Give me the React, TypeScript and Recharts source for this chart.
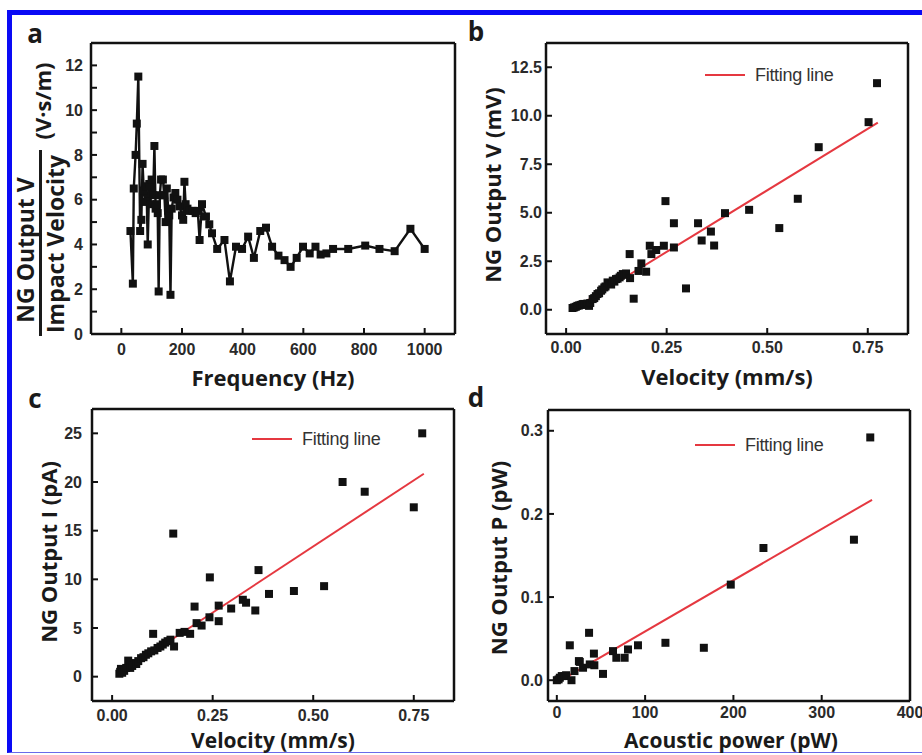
import React from "react";
import { ScatterChart, Scatter, XAxis, YAxis, ZAxis, ReferenceLine } from "recharts";

// panel a: ratio vs frequency
const freqA = [30, 38, 41, 47, 51, 56, 62, 66, 70, 74, 78, 83, 87, 92, 96, 100, 105, 109, 113, 117, 120, 123, 127, 131, 137, 142, 146, 150, 155, 158, 162, 166, 172, 178, 185, 192, 200, 204, 208, 212, 218, 225, 235, 245, 252, 258, 266, 279, 290, 299, 316, 340, 358, 378, 398, 418, 437, 458, 477, 497, 518, 538, 558, 578, 599, 621, 640, 657, 676, 698, 748, 804, 851, 901, 953, 1000];
const ratioA = [4.6, 2.25, 6.5, 8.0, 9.4, 11.5, 4.6, 5.1, 7.6, 6.4, 5.9, 6.6, 4.0, 6.7, 5.8, 6.9, 6.2, 8.4, 5.6, 5.8, 5.4, 1.9, 6.2, 6.9, 6.9, 6.2, 5.0, 6.5, 5.5, 5.3, 1.75, 5.6, 6.1, 6.3, 6.0, 5.7, 5.3, 5.1, 6.8, 5.8, 5.6, 5.5, 5.5, 5.4, 5.5, 4.2, 5.8, 5.25, 4.9, 4.5, 3.8, 4.2, 2.35, 3.9, 3.8, 4.35, 3.4, 4.6, 4.75, 3.9, 3.5, 3.3, 3.0, 3.4, 3.9, 3.6, 3.9, 3.55, 3.6, 3.8, 3.8, 3.95, 3.8, 3.7, 4.7, 3.8];

// panel b: voltage vs velocity
const velB = [0.016, 0.02, 0.024, 0.028, 0.032, 0.036, 0.041, 0.045, 0.05, 0.053, 0.057, 0.06, 0.066, 0.07, 0.074, 0.078, 0.082, 0.087, 0.09, 0.095, 0.098, 0.103, 0.107, 0.112, 0.116, 0.12, 0.124, 0.128, 0.133, 0.136, 0.141, 0.145, 0.149, 0.158, 0.159, 0.168, 0.18, 0.187, 0.199, 0.208, 0.212, 0.224, 0.243, 0.247, 0.268, 0.268, 0.298, 0.328, 0.337, 0.36, 0.368, 0.395, 0.455, 0.53, 0.576, 0.628, 0.752, 0.773];
const voltB = [0.09, 0.12, 0.15, 0.2, 0.22, 0.25, 0.29, 0.3, 0.25, 0.32, 0.2, 0.35, 0.55, 0.6, 0.7, 0.81, 0.85, 0.98, 1.05, 1.15, 1.2, 1.41, 1.35, 1.3, 1.5, 1.45, 1.58, 1.6, 1.67, 1.75, 1.84, 1.8, 1.87, 2.87, 1.63, 0.57, 2.0, 2.39, 1.96, 3.3, 2.87, 3.08, 3.3, 5.6, 3.21, 4.46, 1.1, 4.46, 3.57, 4.03, 3.31, 4.98, 5.15, 4.21, 5.72, 8.38, 9.67, 11.68];
const fitBx = [0.015, 0.775];
const fitBy = [0.0, 9.65];

// panel c: current vs velocity
const velC = [0.018, 0.02, 0.022, 0.025, 0.03, 0.035, 0.04, 0.045, 0.05, 0.055, 0.06, 0.065, 0.072, 0.078, 0.084, 0.09, 0.097, 0.102, 0.105, 0.113, 0.12, 0.126, 0.132, 0.138, 0.145, 0.154, 0.152, 0.168, 0.18, 0.194, 0.205, 0.21, 0.2225, 0.242, 0.243, 0.265, 0.265, 0.296, 0.325, 0.333, 0.356, 0.364, 0.39, 0.452, 0.527, 0.573, 0.628, 0.75, 0.771];
const currC = [0.3, 0.5, 0.8, 0.4, 0.6, 0.9, 1.65, 0.9, 1.1, 1.4, 1.3, 1.6, 1.9, 2.0, 2.25, 2.4, 2.6, 4.4, 2.7, 2.95, 3.1, 3.3, 3.5, 3.65, 3.8, 3.1, 14.7, 4.5, 4.6, 4.4, 7.2, 5.5, 5.25, 6.1, 10.2, 7.3, 5.7, 7.0, 7.9, 7.6, 6.8, 10.95, 8.5, 8.8, 9.3, 20.0, 19.0, 17.4, 25.0];
const fitCx = [0.015, 0.775];
const fitCy = [0.2, 20.85];

// panel d: output power vs acoustic power
const acoD = [0, 2, 3.4, 5.6, 9, 10.5, 14.7, 16.6, 20, 25, 26, 29.7, 36.5, 37.3, 42, 42.5, 52.3, 63.6, 67.4, 76.8, 80.6, 91.9, 123, 166.5, 197, 234, 336.5, 355];
const powD = [0, 0.001, 0.003, 0.005, 0.005, 0.006, 0.042, 0.0, 0.011, 0.023, 0.022, 0.015, 0.057, 0.019, 0.032, 0.018, 0.0076, 0.035, 0.027, 0.027, 0.037, 0.042, 0.045, 0.039, 0.115, 0.159, 0.169, 0.292];
const fitDx = [0, 357];
const fitDy = [-0.003, 0.217];

// ticks (panel a y has unlabelled minor ticks at odd values)
const ticksAx = [0, 200, 400, 600, 800, 1000];
const ticksAy = [0, 1, 2, 3, 4, 5, 6, 7, 8, 9, 10, 11, 12];
const ticksVel = [0, 0.25, 0.5, 0.75];
const ticksBy = [0, 2.5, 5, 7.5, 10, 12.5];
const ticksCy = [0, 5, 10, 15, 20, 25];
const ticksDx = [0, 100, 200, 300, 400];
const ticksDy = [0, 0.1, 0.2, 0.3];

const zip = (xs: number[], ys: number[]) => xs.map((x, i) => ({ x, y: ys[i] }));

const INK = "#111111";
const RED = "#e53840";
const TICK_FONT = "'Liberation Sans', Arial, sans-serif";
const TITLE_FONT = "'Open Sans', 'Noto Sans', sans-serif";

const PAD_L = 90, PAD_T = 12, PAD_R = 14, PAD_B = 36;
const TICK_LEN = 6;

type Box = { x0: number; y0: number; x1: number; y1: number };

interface PanelProps {
  box: Box;
  xDomain: [number, number];
  yDomain: [number, number];
  xTicks: number[];
  yTicks: number[];
  fmtX: (v: number) => string;
  fmtY: (v: number) => string;
  data: { x: number; y: number }[];
  joined?: boolean;
  markerArea: number;
  fit?: { x: number[]; y: number[] };
  xMargin: number;
  yGap: number;
}

const tickStyle = { fontFamily: TICK_FONT, fontWeight: 700, fontSize: 16, fill: "#2a2a2a" };
const lineStyle = { stroke: INK, strokeWidth: 2.5 };

function Panel(p: PanelProps) {
  const w = p.box.x1 - p.box.x0;
  const h = p.box.y1 - p.box.y0;

  return (
    <div style={{ position: "absolute", left: p.box.x0 - PAD_L, top: p.box.y0 - PAD_T }}>
      <ScatterChart width={w + PAD_L + PAD_R} height={h + PAD_T + PAD_B} margin={{ top: PAD_T - 1, right: PAD_R - 1, left: 0, bottom: 0 }}>
        <XAxis xAxisId="b" orientation="bottom" type="number" dataKey="x" domain={p.xDomain} ticks={p.xTicks} interval={0}
          tickSize={-TICK_LEN} tickMargin={p.xMargin} tick={tickStyle} tickFormatter={p.fmtX}
          axisLine={lineStyle} tickLine={{ stroke: INK, strokeWidth: 2 }} height={PAD_B} allowDataOverflow />
        <XAxis xAxisId="t" orientation="top" type="number" dataKey="x" domain={p.xDomain} ticks={p.xTicks} interval={0}
          tickSize={-TICK_LEN} tick={false} axisLine={lineStyle} tickLine={{ stroke: INK, strokeWidth: 2 }} height={1} allowDataOverflow />
        <YAxis yAxisId="l" orientation="left" type="number" dataKey="y" domain={p.yDomain} ticks={p.yTicks} interval={0}
          tickSize={-TICK_LEN} tickMargin={TICK_LEN + p.yGap} tick={tickStyle} tickFormatter={p.fmtY}
          axisLine={lineStyle} tickLine={{ stroke: INK, strokeWidth: 2 }} width={PAD_L} allowDataOverflow />
        <YAxis yAxisId="r" orientation="right" type="number" dataKey="y" domain={p.yDomain} ticks={p.yTicks} interval={0}
          tickSize={-TICK_LEN} tick={false} axisLine={lineStyle} tickLine={{ stroke: INK, strokeWidth: 2 }} width={1} allowDataOverflow />
        <ZAxis range={[p.markerArea, p.markerArea]} />
        <Scatter
          xAxisId="b"
          yAxisId="l"
          data={p.data}
          shape="square"
          fill={INK}
          line={p.joined ? { stroke: INK, strokeWidth: 2.4 } : false}
          isAnimationActive={false}
        />
        {p.fit && (
          <ReferenceLine
            xAxisId="b"
            yAxisId="l"
            segment={[{ x: p.fit.x[0], y: p.fit.y[0] }, { x: p.fit.x[1], y: p.fit.y[1] }]}
            stroke={RED}
            strokeWidth={2}
            ifOverflow="visible"
          />
        )}
      </ScatterChart>
    </div>
  );
}

function Txt({ x, y, size, children, rotate, family = TITLE_FONT, weight = 700, color = "#1a1a1a" }: any) {
  return (
    <div
      style={{
        position: "absolute",
        left: x,
        top: y,
        transform: `translate(-50%, -50%)${rotate ? " rotate(-90deg)" : ""}`,
        fontFamily: family,
        fontWeight: weight,
        fontSize: size,
        color,
        whiteSpace: "nowrap",
        lineHeight: 1,
      }}
    >
      {children}
    </div>
  );
}

function FitLegend({ x, y }: { x: number; y: number }) {
  return (
    <div style={{ position: "absolute", left: x, top: y - 10, display: "flex", alignItems: "center", height: 20 }}>
      <div style={{ width: 40, height: 2, background: RED }} />
      <div style={{ marginLeft: 10, fontFamily: TICK_FONT, fontSize: 18, color: "#333", whiteSpace: "nowrap", letterSpacing: -0.3 }}>Fitting line</div>
    </div>
  );
}

export default function App() {
  const boxA = { x0: 91, y0: 43, x1: 455, y1: 334 };
  const boxB = { x0: 546, y0: 43, x1: 908, y1: 334 };
  const boxC = { x0: 92, y0: 409, x1: 454, y1: 701 };
  const boxD = { x0: 548, y0: 410, x1: 910, y1: 701 };

  return (
    <div style={{ position: "absolute", left: 0, top: 0, width: 922, height: 755, overflow: "hidden", background: "#fff" }}>
      <div style={{ position: "absolute", left: 7, top: 10, width: 960, height: 737, borderLeft: "5.5px solid #0a0af5", borderTop: "5.5px solid #0a0af5", borderBottom: "1.5px solid #6a6aea" }} />

      <Panel box={boxA} xDomain={[-100, 1100]} yDomain={[0, 13]} xTicks={ticksAx} yTicks={ticksAy}
        fmtX={(v) => String(v)} fmtY={(v) => (v % 2 === 0 ? String(v) : "")}
        data={zip(freqA, ratioA)} joined markerArea={36} xMargin={16} yGap={8} />
      <Panel box={boxB} xDomain={[-0.05, 0.85]} yDomain={[-1.25, 13.75]} xTicks={ticksVel} yTicks={ticksBy}
        fmtX={(v) => v.toFixed(2)} fmtY={(v) => v.toFixed(1)}
        data={zip(velB, voltB)} markerArea={49} fit={{ x: fitBx, y: fitBy }} xMargin={14} yGap={4} />
      <Panel box={boxC} xDomain={[-0.05, 0.85]} yDomain={[-2.5, 27.5]} xTicks={ticksVel} yTicks={ticksCy}
        fmtX={(v) => v.toFixed(2)} fmtY={(v) => String(v)}
        data={zip(velC, currC)} markerArea={49} fit={{ x: fitCx, y: fitCy }} xMargin={15} yGap={10} />
      <Panel box={boxD} xDomain={[-10, 400]} yDomain={[-0.025, 0.325]} xTicks={ticksDx} yTicks={ticksDy}
        fmtX={(v) => String(v)} fmtY={(v) => v.toFixed(1)}
        data={zip(acoD, powD)} markerArea={56} fit={{ x: fitDx, y: fitDy }} xMargin={12} yGap={5} />

      {/* panel letters */}
      <Txt x={35} y={33} size={26}>a</Txt>
      <Txt x={476} y={31} size={26}>b</Txt>
      <Txt x={35} y={398} size={26}>c</Txt>
      <Txt x={476} y={397} size={26}>d</Txt>

      {/* axis titles */}
      <Txt x={273} y={377} size={22}>Frequency (Hz)</Txt>
      <Txt x={727} y={376} size={22}>Velocity (mm/s)</Txt>
      <Txt x={273} y={740} size={21}>Velocity (mm/s)</Txt>
      <Txt x={731} y={740} size={21}>Acoustic power (pW)</Txt>

      <Txt x={492} y={185} size={22} rotate>NG Output V (mV)</Txt>
      <Txt x={48} y={552} size={22} rotate>NG Output I (pA)</Txt>
      <Txt x={498} y={558} size={22} rotate>NG Output P (pW)</Txt>

      {/* panel a fraction label */}
      <Txt x={25} y={250} size={23} rotate>NG Output V</Txt>
      <div style={{ position: "absolute", left: 39, top: 150, width: 2.5, height: 186, background: "#1a1a1a" }} />
      <Txt x={55} y={244} size={23} rotate>Impact Velocity</Txt>
      <Txt x={42} y={101} size={22} rotate>(V·s/m)</Txt>

      <FitLegend x={705} y={75} />
      <FitLegend x={252} y={439} />
      <FitLegend x={695} y={445} />
    </div>
  );
}
